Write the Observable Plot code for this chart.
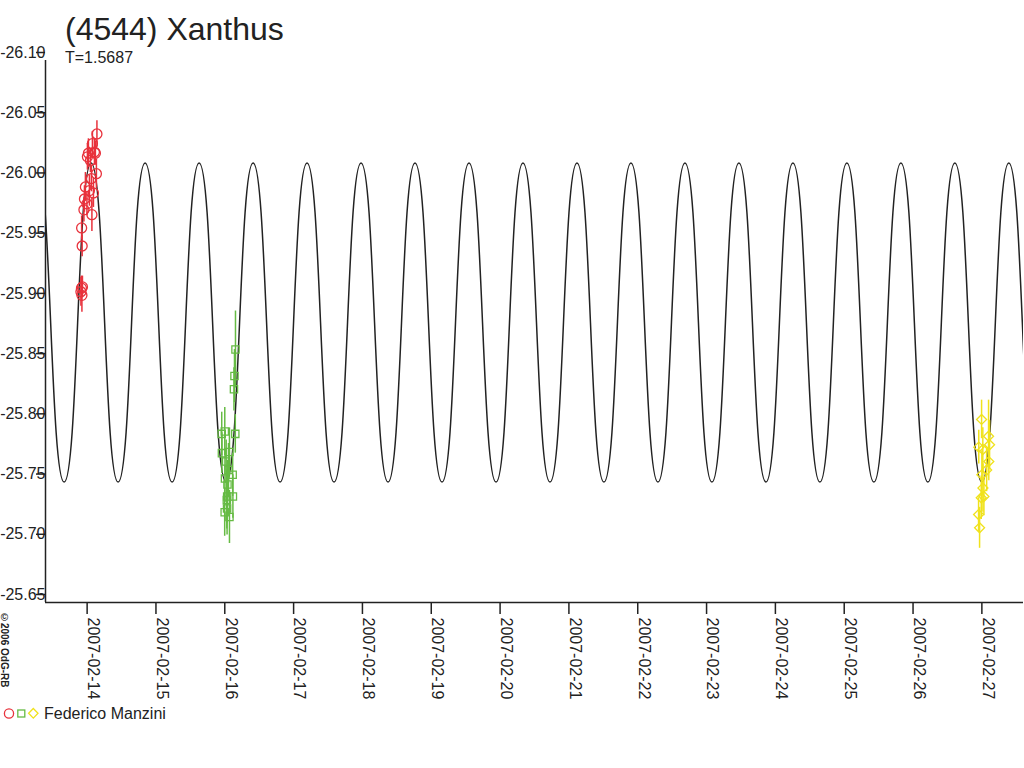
<!DOCTYPE html>
<html>
<head>
<meta charset="utf-8">
<script src="https://cdn.jsdelivr.net/npm/d3@7"></script>
<script src="https://cdn.jsdelivr.net/npm/@observablehq/plot@0.6"></script>
<style>
  body { margin: 0; background: #fff; font-family: "Liberation Sans", Arial, sans-serif; color: #222; }
  #wrap { position: relative; width: 1024px; height: 768px; overflow: hidden; }
  #chart { position: absolute; left: 0; top: 0; }
  #title { position: absolute; left: 65px; top: 13px; font-size: 32px; line-height: 32px; white-space: nowrap; }
  #sub { position: absolute; left: 65px; top: 50px; font-size: 16px; line-height: 16px; white-space: nowrap; }
  #copy { position: absolute; left: -1px; top: 612px; font-size: 10px; font-weight: bold; writing-mode: vertical-rl; white-space: nowrap; }
  #legend { position: absolute; left: 0; top: 700px; }
</style>
</head>
<body>
<div id="wrap">
  <div id="chart"></div>
  <div id="title"></div>
  <div id="sub"></div>
  <div id="copy"></div>
  <div id="legend"></div>
</div>
<script>
// ---- texts ----
const titleText = "(4544) Xanthus";
const periodText = "T=1.5687";
const copyText = "©2006 OdG-RB";
const observer = "Federico Manzini";

// ---- axes ----
const xTickLabels = ["2007-02-14","2007-02-15","2007-02-16","2007-02-17","2007-02-18","2007-02-19","2007-02-20",
                     "2007-02-21","2007-02-22","2007-02-23","2007-02-24","2007-02-25","2007-02-26","2007-02-27"];
const yTickValues = [-26.10, -26.05, -26.00, -25.95, -25.90, -25.85, -25.80, -25.75, -25.70, -25.65];
const xDomain = ["2007-02-13T09:29", "2007-02-27T14:31"];
const yDomain = [-26.10, -25.65];

// ---- fitted lightcurve: extrema (alternating maxima / minima) ----
const curveTimes = [
  "2007-02-13T06:34","2007-02-13T15:59","2007-02-14T01:24","2007-02-14T10:48","2007-02-14T20:13",
  "2007-02-15T05:38","2007-02-15T15:03","2007-02-16T00:27","2007-02-16T09:52","2007-02-16T19:17",
  "2007-02-17T04:41","2007-02-17T14:06","2007-02-17T23:31","2007-02-18T08:56","2007-02-18T18:20",
  "2007-02-19T03:45","2007-02-19T13:10","2007-02-19T22:35","2007-02-20T07:59","2007-02-20T17:24",
  "2007-02-21T02:49","2007-02-21T12:13","2007-02-21T21:38","2007-02-22T07:03","2007-02-22T16:28",
  "2007-02-23T01:52","2007-02-23T11:17","2007-02-23T20:42","2007-02-24T06:07","2007-02-24T15:31",
  "2007-02-25T00:56","2007-02-25T10:21","2007-02-25T19:46","2007-02-26T05:10","2007-02-26T14:35",
  "2007-02-27T00:00","2007-02-27T09:24","2007-02-27T18:49"
];
const curveMags = [
  -26.015,-25.750,-26.015,-25.750,-26.015,-25.750,-26.015,-25.750,-26.015,-25.750,
  -26.015,-25.750,-26.015,-25.750,-26.015,-25.750,-26.015,-25.750,-26.015,-25.750,
  -26.015,-25.750,-26.015,-25.750,-26.015,-25.750,-26.015,-25.750,-26.015,-25.750,
  -26.015,-25.750,-26.015,-25.750,-26.015,-25.750,-26.015,-25.750
];

// ---- observations (session 1: red circles) ----
const redTimes = ["2007-02-13T21:50","2007-02-13T22:01","2007-02-13T22:11","2007-02-13T22:22","2007-02-13T22:05",
  "2007-02-13T22:16","2007-02-13T22:53","2007-02-13T23:04","2007-02-13T23:24","2007-02-13T23:56",
  "2007-02-14T00:06","2007-02-14T00:27","2007-02-14T00:48","2007-02-14T01:09","2007-02-14T01:30",
  "2007-02-14T01:40","2007-02-14T01:51","2007-02-14T02:12","2007-02-14T02:33","2007-02-14T02:53",
  "2007-02-14T03:14","2007-02-14T03:25"];
const redMags = [-25.908,-25.911,-25.905,-25.912,-25.961,-25.946,-25.976,-25.985,-25.995,-25.981,
  -26.020,-26.023,-25.992,-26.017,-26.002,-25.972,-26.031,-25.990,-26.024,-26.023,-26.006,-26.039];
const redErrs = [0.012,0.010,0.014,0.009,0.010,0.009,0.010,0.011,0.012,0.010,
  0.011,0.012,0.013,0.010,0.011,0.014,0.010,0.012,0.011,0.010,0.012,0.011];

// ---- session 2: green squares ----
const greenTimes = ["2007-02-16T03:44","2007-02-16T03:23","2007-02-16T03:12","2007-02-15T22:56","2007-02-16T00:00",
  "2007-02-16T03:40","2007-02-15T23:00","2007-02-16T01:38","2007-02-16T00:29","2007-02-16T01:17",
  "2007-02-16T00:04","2007-02-16T02:45","2007-02-16T00:56","2007-02-16T00:50","2007-02-16T02:50",
  "2007-02-16T00:43","2007-02-15T23:58","2007-02-16T00:48","2007-02-16T01:38"];
const greenMags = [-25.860,-25.838,-25.827,-25.790,-25.792,-25.790,-25.774,-25.775,-25.767,-25.760,
  -25.753,-25.756,-25.748,-25.738,-25.738,-25.735,-25.725,-25.728,-25.721];
const greenErrs = [0.032,0.022,0.018,0.018,0.020,0.016,0.017,0.020,0.018,0.022,
  0.020,0.018,0.020,0.022,0.018,0.024,0.020,0.022,0.022];

// ---- session 3: yellow diamonds ----
const yellowTimes = ["2007-02-26T23:54","2007-02-26T22:55","2007-02-27T02:20","2007-02-27T02:41","2007-02-27T00:20",
  "2007-02-27T02:25","2007-02-27T01:40","2007-02-27T00:00","2007-02-27T00:22","2007-02-27T00:43",
  "2007-02-26T23:47","2007-02-26T22:51","2007-02-26T23:12"];
const yellowMags = [-25.802,-25.779,-25.788,-25.781,-25.777,-25.767,-25.760,-25.756,-25.745,-25.738,
  -25.737,-25.723,-25.712];
const yellowErrs = [0.016,0.014,0.030,0.020,0.018,0.016,0.018,0.020,0.020,0.016,0.018,0.014,0.017];

// ---- colours ----
const RED = "#e8323c", GREEN = "#66bb44", YELLOW = "#f0e21c", INK = "#222";

const utc = s => new Date(s + "Z");
const rows = (ts, ms, es) => ts.map((t, i) => ({t: utc(t), m: ms[i], e: es[i]}));
const red = rows(redTimes, redMags, redErrs);
const green = rows(greenTimes, greenMags, greenErrs);
const yellow = rows(yellowTimes, yellowMags, yellowErrs);
const curve = curveTimes.map((t, i) => ({t: utc(t), m: curveMags[i]}));
const xTicks = xTickLabels.map(s => utc(s + "T00:00"));
const xDom = xDomain.map(utc);
const fmtDay = d3.utcFormat("%Y-%m-%d");

const errMarks = (data, color) => Plot.ruleX(data, {x: "t", y1: d => d.m - d.e, y2: d => d.m + d.e, stroke: color, strokeWidth: 1.5});

const chart = Plot.plot({
  width: 1024,
  height: 700,
  marginLeft: 45,
  marginRight: 1,
  marginTop: 60,
  marginBottom: 98,
  style: {fontFamily: "'Liberation Sans', Arial, sans-serif", fontSize: "16px", color: INK, background: "transparent", overflow: "visible"},
  x: {type: "utc", domain: xDom},
  y: {domain: yDomain, reverse: true},
  marks: [
    Plot.line(curve, {x: "t", y: "m", curve: "bump-x", stroke: INK, strokeWidth: 1.5, clip: true}),
    errMarks(red, RED),
    errMarks(green, GREEN),
    errMarks(yellow, YELLOW),
    Plot.dot(red, {x: "t", y: "m", r: 5, stroke: RED, fill: "none", strokeWidth: 1.3}),
    Plot.dot(green, {x: "t", y: "m", symbol: "square", r: 4.1, stroke: GREEN, fill: "none", strokeWidth: 1.3}),
    Plot.dot(yellow, {x: "t", y: "m", symbol: "diamond2", r: 4.5, stroke: YELLOW, fill: "none", strokeWidth: 1.3}),
    Plot.axisY(yTickValues, {tickSize: 9, tickPadding: -9, dy: -8, strokeWidth: 1.5, tickFormat: d => d.toFixed(2), label: null, fontSize: 16, fill: INK}),
    // x ticks (no labels)
    Plot.axisX(xTicks, {tickSize: 12, strokeWidth: 1.5, tickFormat: () => "", label: null}),
    // x labels (rotated, shifted to the right of each tick)
    Plot.axisX(xTicks, {tickSize: 12, tickRotate: 90, dx: 6, strokeOpacity: 0, tickFormat: fmtDay, label: null, fontSize: 16, fill: INK}),
    Plot.ruleX([xDom[0]], {y1: yDomain[0], y2: yDomain[1], stroke: INK, strokeWidth: 1.5}),
    Plot.ruleY([yDomain[1]], {stroke: INK, strokeWidth: 1.5})
  ]
});
document.getElementById("chart").appendChild(chart);
document.getElementById("title").textContent = titleText;
document.getElementById("sub").textContent = periodText;
document.getElementById("copy").textContent = copyText;

// legend
const ns = "http://www.w3.org/2000/svg";
const lg = document.createElementNS(ns, "svg");
lg.setAttribute("width", 260); lg.setAttribute("height", 30);
lg.innerHTML =
  `<circle cx="9" cy="13.5" r="4.6" fill="none" stroke="${RED}" stroke-width="1.3"/>` +
  `<rect x="17.8" y="10" width="7" height="7" fill="none" stroke="${GREEN}" stroke-width="1.3"/>` +
  `<path d="M33.3,8.5 L38,13.3 L33.3,18.1 L28.6,13.3 Z" fill="none" stroke="${YELLOW}" stroke-width="1.3"/>` +
  `<text x="44" y="18.5" font-size="16" fill="${INK}" font-family="'Liberation Sans', Arial, sans-serif"></text>`;
lg.querySelector("text").textContent = observer;
document.getElementById("legend").appendChild(lg);
</script>
</body>
</html>
